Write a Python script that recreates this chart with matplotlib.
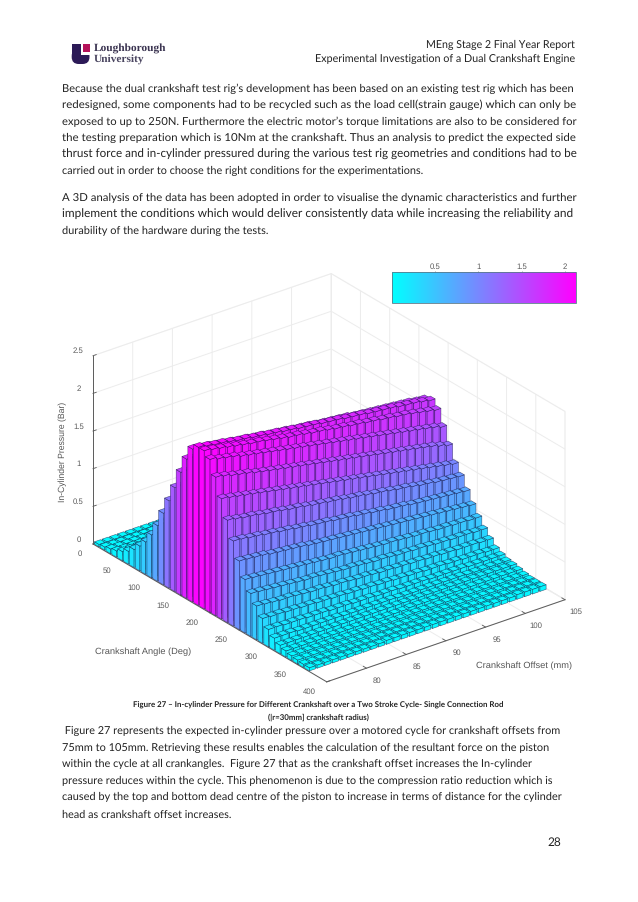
import numpy as np
import matplotlib
matplotlib.use("Agg")
import matplotlib.pyplot as plt
from matplotlib import cm
from matplotlib.colors import Normalize
from matplotlib.patches import Rectangle, FancyBboxPatch
from mpl_toolkits.mplot3d import proj3d
from mpl_toolkits.mplot3d.art3d import Poly3DCollection

plt.rcParams["text.hinting"] = "none"
plt.rcParams["text.hinting_factor"] = 8

angles = list(range(0, 370, 10))
offsets = list(range(75, 106))
x_ticks = [0, 50, 100, 150, 200, 250, 300, 350, 400]
y_ticks = [80, 85, 90, 95, 100, 105]
z_ticks = [0, 0.5, 1, 1.5, 2, 2.5]
z_tick_labels = ["0", "0.5", "1", "1.5", "2", "2.5"]
cbar_ticks = [0.5, 1, 1.5, 2]
cbar_labels = ["0.5", "1", "1.5", "2"]

# In-cylinder pressure in bar x100: one row per crank angle, one column per offset
pressure_x100 = [
 [3,3,3,3,3,3,3,3,3,3,3,3,3,3,3,2,2,2,2,2,2,2,2,2,2,2,2,2,2,2,2],
 [4,4,4,4,4,4,4,4,4,4,3,3,3,3,3,3,3,3,3,3,3,3,3,3,3,3,3,3,3,3,3],
 [6,6,6,6,6,6,6,6,5,5,5,5,5,5,5,5,5,5,5,5,5,5,5,5,5,5,5,5,5,5,5],
 [8,8,8,8,8,8,7,7,7,7,7,7,7,7,7,7,7,7,6,6,6,6,6,6,6,6,6,6,6,6,6],
 [12,12,12,12,12,11,11,11,11,11,11,11,11,10,10,10,10,10,10,10,10,10,10,10,9,9,9,9,9,9,9],
 [17,17,17,16,16,16,16,16,16,15,15,15,15,15,15,15,14,14,14,14,14,14,14,14,14,13,13,13,13,13,13],
 [24,24,23,23,23,23,22,22,22,22,21,21,21,21,21,20,20,20,20,20,19,19,19,19,19,19,18,18,18,18,18],
 [33,33,32,32,31,31,31,30,30,30,29,29,29,28,28,28,28,27,27,27,27,26,26,26,26,26,25,25,25,25,25],
 [43,43,42,42,41,41,40,40,39,39,39,38,38,38,37,37,37,36,36,36,35,35,35,35,34,34,34,34,33,33,33],
 [57,56,56,55,55,54,53,53,52,52,51,51,50,50,49,49,48,48,48,47,47,46,46,46,45,45,45,44,44,44,44],
 [74,73,72,72,71,70,70,69,68,68,67,67,66,65,65,64,64,63,63,62,62,61,61,60,60,60,59,59,58,58,58],
 [95,94,93,92,91,90,90,89,88,87,86,85,85,84,83,83,82,81,81,80,79,79,78,78,77,77,76,76,75,75,75],
 [116,115,114,113,112,111,110,109,108,107,106,105,104,103,102,101,100,100,99,98,97,97,96,95,95,94,94,93,93,93,93],
 [138,137,135,134,133,132,131,129,128,127,126,125,124,123,122,121,120,119,118,117,116,115,115,114,113,112,112,111,111,111,111],
 [163,161,160,158,157,156,154,153,152,150,149,148,147,146,145,143,142,141,140,139,138,137,136,136,135,134,133,133,132,131,131],
 [185,183,182,180,179,177,176,175,173,172,171,169,168,167,166,165,164,162,161,160,159,158,157,156,155,154,153,152,152,151,150],
 [203,201,200,198,196,195,193,192,190,189,187,186,185,183,182,181,179,178,177,176,175,173,172,171,170,169,168,167,166,164,163],
 [210,208,206,205,203,201,200,198,197,195,194,192,191,189,188,187,185,184,183,181,180,179,177,176,175,174,172,171,170,168,166],
 [210,208,206,204,202,200,198,197,195,193,191,189,188,186,184,183,181,179,178,176,175,173,172,170,169,167,166,164,162,160,158],
 [203,200,198,196,193,191,189,187,185,183,181,179,177,175,173,171,169,167,165,163,161,159,157,155,153,151,149,147,145,143,140],
 [184,182,179,177,175,172,170,168,166,164,162,160,158,156,154,152,150,148,146,144,142,140,138,136,134,132,130,128,126,123,120],
 [160,158,156,154,152,150,148,146,144,142,140,138,136,134,132,130,128,126,124,122,120,118,116,114,112,110,108,106,104,102,100],
 [136,134,132,131,129,127,126,124,122,121,119,117,116,114,113,111,109,108,106,104,103,101,99,98,96,94,93,91,90,89,88],
 [113,112,110,109,107,106,104,103,101,100,98,97,96,94,93,92,90,89,87,86,84,83,82,80,79,78,77,76,75,74,73],
 [91,90,89,88,86,85,84,83,82,80,79,78,77,76,75,74,73,72,71,70,69,68,67,66,65,64,63,62,61,60,59],
 [71,70,69,68,67,66,65,64,63,62,61,60,60,59,58,57,56,55,54,54,53,52,51,51,50,49,49,48,48,47,47],
 [57,56,55,54,53,52,51,50,50,49,48,47,46,46,45,44,43,43,42,41,41,40,40,39,38,38,37,37,37,36,36],
 [45,44,43,42,42,41,40,39,39,38,37,37,36,35,35,34,33,33,32,32,31,31,30,30,29,29,28,28,28,27,27],
 [33,32,32,31,31,30,30,29,29,28,28,27,27,26,26,25,25,24,24,23,23,22,22,22,21,21,20,20,20,19,19],
 [23,23,22,22,22,21,21,21,20,20,20,19,19,19,18,18,18,17,17,17,17,16,16,16,16,16,15,15,15,15,15],
 [16,16,16,15,15,15,15,15,15,14,14,14,14,14,14,14,13,13,13,13,13,13,13,13,13,12,12,12,12,12,12],
 [11,11,11,11,11,11,11,11,11,11,11,11,11,11,11,11,11,11,11,11,11,11,11,11,11,11,11,11,11,11,11],
 [8,8,8,8,8,8,8,8,8,8,8,8,8,8,8,8,9,9,9,9,9,9,9,9,9,9,9,9,9,9,9],
 [6,6,6,6,6,6,6,6,6,6,6,6,6,6,6,7,7,7,7,7,7,7,7,7,7,7,7,7,7,7,7],
 [5,5,5,5,5,5,5,5,5,5,5,5,5,5,5,6,6,6,6,6,6,6,6,6,6,6,6,6,6,6,6],
 [4,4,4,4,4,4,4,4,4,4,5,5,5,5,5,5,5,5,5,5,5,5,5,5,5,5,5,6,6,6,6],
 [4,4,4,4,4,4,4,4,4,4,5,5,5,5,5,5,5,5,5,5,5,5,5,5,5,5,5,6,6,6,6],
]

header_lines = ["MEng Stage 2 Final Year Report",
                "Experimental Investigation of a Dual Crankshaft Engine"]
para1 = ["Because the dual crankshaft test rig\u2019s development has been based on an existing test rig which has been",
         "redesigned, some components had to be recycled such as the load cell(strain gauge) which can only be",
         "exposed to up to 250N. Furthermore the electric motor\u2019s torque limitations are also to be considered for",
         "the testing preparation which is 10Nm at the crankshaft. Thus an analysis to predict the expected side",
         "thrust force and in-cylinder pressured during the various test rig geometries and conditions had to be"]
para1_last = "carried out in order to choose the right conditions for the experimentations."
para2 = ["A 3D analysis of the data has been adopted in order to visualise the dynamic characteristics and further",
         "implement the conditions which would deliver consistently data while increasing the reliability and"]
para2_last = "durability of the hardware during the tests."
caption = ["Figure 27 \u2013 In-cylinder Pressure for Different Crankshaft over a Two Stroke Cycle- Single Connection Rod",
           "(|r=30mm] crankshaft radius)"]
para3 = [" Figure 27 represents the expected in-cylinder pressure over a motored cycle for crankshaft offsets from",
         "75mm to 105mm. Retrieving these results enables the calculation of the resultant force on the piston",
         "within the cycle at all crankangles.  Figure 27 that as the crankshaft offset increases the In-cylinder",
         "pressure reduces within the cycle. This phenomenon is due to the compression ratio reduction which is",
         "caused by the top and bottom dead centre of the piston to increase in terms of distance for the cylinder",
         "head as crankshaft offset increases."]

W, H = 638, 903
fig = plt.figure(figsize=(W / 100, H / 100), dpi=100, facecolor="white")
page = fig.add_axes([0, 0, 1, 1], zorder=5)
page.set_xlim(0, W); page.set_ylim(H, 0); page.axis("off"); page.patch.set_alpha(0)
renderer = fig.canvas.get_renderer()
BODY = "Lato"
TXT = "#222222"

def plain_line(s, y, width, x0=62, size=8.2, ha="left", weight="normal"):
    t = page.text(x0, y, s, family=BODY, fontsize=size, color=TXT, va="center", ha=ha, fontweight=weight)
    best, best_err = size, 1e9
    for cand in np.arange(size * 0.8, size * 1.25, 0.01):
        t.set_fontsize(cand)
        err = abs(t.get_window_extent(renderer).width - width)
        if err < best_err:
            best, best_err = cand, err
    t.set_fontsize(best)
    return t

plain_line(header_lines[0], 45, 149.4, x0=575, ha="right")
plain_line(header_lines[1], 59.3, 261.4, x0=575, ha="right")
for y, s in zip([88.3, 105, 121.5, 138, 154.5], para1):
    plain_line(s, y, 513)
plain_line(para1_last, 171, 362.6)
for y, s in zip([197.7, 214.5], para2):
    plain_line(s, y, 513)
plain_line(para2_last, 231, 206)
plain_line(caption[0], 705, 369, x0=318.5, ha="center", size=6.2, weight="bold")
plain_line(caption[1], 717, 101, x0=318.5, ha="center", size=6.2, weight="bold")
para3_y = [731, 748.3, 764.3, 781, 796.7, 814.3]
para3_w = [498, 484.7, 470, 493, 497, 169.7]
for y, wid, s in zip(para3_y, para3_w, para3):
    plain_line(s, y, wid)
page.text(561, 843, "28", family=BODY, fontsize=8.6, color=TXT, va="center", ha="right")

# logo
PURPLE = "#2c1a57"
page.add_patch(Rectangle((71.7, 44.5), 9.3, 12, fc=PURPLE, ec="none"))
page.add_patch(FancyBboxPatch((71.7, 50), 17.8, 15, boxstyle="round,pad=0,rounding_size=7", fc=PURPLE, ec="none"))
page.add_patch(Rectangle((81, 43.5), 9.5, 12, fc="white", ec="none"))
page.add_patch(Rectangle((83.3, 44.5), 6.2, 8, fc="#b5125a", ec="none"))
page.text(93.5, 49.3, "Loughborough", family="Liberation Serif", fontsize=8.2, color="#3a3350", va="center", fontweight="bold")
page.text(93.5, 60, "University", family="Liberation Serif", fontsize=8.2, color="#4a4560", va="center", fontweight="bold")

# 3D chart
ax = fig.add_axes([0.05, 0.2, 0.7, 0.7 * W / H], projection="3d", proj_type="ortho", computed_zorder=False, zorder=2)
ax.patch.set_alpha(0)
ax.set_xlim(0, 400, view_margin=0)
ax.set_ylim(75, 105, view_margin=0)
ax.set_zlim(0, 2.5, view_margin=0)
ax.set_box_aspect((385, 300, 211))
ax.view_init(elev=26.8, azim=-37.4)

AXC = "#5a5a5a"
GRID = "#ececec"
for a in (ax.xaxis, ax.yaxis, ax.zaxis):
    a.pane.set_facecolor((1, 1, 1, 1))
    a.pane.set_edgecolor(GRID)
    a.pane.set_linewidth(0.7)
    a.line.set_color(AXC)
    a.line.set_linewidth(0.7)
    a._axinfo["grid"].update(color=GRID, linewidth=0.7)
    a._axinfo["tick"].update(inward_factor=0.0, outward_factor=0.17, linewidth={True: 0.6, False: 0.6}, color=AXC)
ax.set_xticks(x_ticks); ax.set_yticks(y_ticks); ax.set_zticks(z_ticks, z_tick_labels)
ax.zaxis.set_ticks_position("lower")
ax.zaxis.set_label_position("lower")
ax.tick_params(axis="x", colors=AXC, labelsize=5.6, pad=1)
ax.tick_params(axis="y", colors=AXC, labelsize=5.6, pad=1)
ax.tick_params(axis="z", colors=AXC, labelsize=5.6, pad=-2)
for lab in ax.get_xticklabels() + ax.get_yticklabels() + ax.get_zticklabels():
    lab.set_family("Liberation Sans")
    lab.set_va("bottom")
for lab in ax.get_xticklabels():
    lab.set_ha("right")

# fit the box to the page
cx = np.array([0, 400, 400, 0]); cy = np.array([75, 75, 105, 105]); cz = np.zeros(4)
def corners():
    ax.apply_aspect()
    tx, ty, _ = proj3d.proj_transform(cx, cy, cz, ax.get_proj())
    return ax.transData.transform(np.c_[tx, ty])
for _ in range(3):
    p = corners()
    pos = ax.get_position(original=True)
    L = pos.width * W
    l0 = pos.x0 * W; b0 = pos.y0 * H
    scale = (565 - 93) / (p[2, 0] - p[0, 0])
    L2 = L * scale
    ax.set_position([l0 / W, b0 / H, L2 / W, L2 / H])
    p = corners()
    dx = 93 - p[0, 0]
    dy = (H - 545) - p[0, 1]
    ax.set_position([(l0 + dx) / W, (b0 + dy) / H, L2 / W, L2 / H])

norm = Normalize(0, 2.13)
cmap = matplotlib.colormaps["cool"]
PZ = np.array(pressure_x100) / 100.0
dth = 4.0
pitch = 30.0 / 31
dof = 0.4 * pitch
order = 10
EDGE = (0.06, 0.06, 0.22, 0.65)
for i, th in enumerate(angles):
    xc = th + 5
    for j in range(len(offsets) - 1, -1, -1):
        yc = 75 + (offsets[j] - 75 + 0.5) * pitch
        h = PZ[i, j]
        x0, x1, y0, y1 = xc - dth, xc + dth, yc - dof, yc + dof
        polys = [[(x1, y0, 0), (x1, y1, 0), (x1, y1, h), (x1, y0, h)],
                 [(x0, y0, 0), (x1, y0, 0), (x1, y0, h), (x0, y0, h)],
                 [(x0, y0, h), (x1, y0, h), (x1, y1, h), (x0, y1, h)]]
        c = cmap(norm(h))
        pc = Poly3DCollection(polys, facecolors=[c] * 3, edgecolors=[EDGE] * 3, linewidths=0.4, zorder=order)
        ax.add_collection3d(pc, autolim=False)
        order += 1

# axis captions
CAPC = "#555555"
page.text(143, 652, "Crankshaft Angle (Deg)", family="Liberation Sans", fontsize=6.7, color=CAPC, ha="center", va="center")
page.text(524, 666, "Crankshaft Offset (mm)", family="Liberation Sans", fontsize=6.7, color=CAPC, ha="center", va="center")
page.text(63, 452, "In-Cylinder Pressure (Bar)", family="Liberation Sans", fontsize=6.2, color=CAPC, ha="center", va="center", rotation=90)

# colour bar
cax = fig.add_axes([392 / W, 1 - 304 / H, 184 / W, 31 / H], zorder=3)
sm = cm.ScalarMappable(norm=norm, cmap=cmap)
cb = fig.colorbar(sm, cax=cax, orientation="horizontal", ticks=cbar_ticks)
cb.ax.set_xticklabels(cbar_labels, family="Liberation Sans", fontsize=5.6, color=AXC)
cb.ax.xaxis.set_ticks_position("top")
cb.ax.tick_params(length=1, width=0.4, color=AXC, pad=0.5)
cb.outline.set_edgecolor("#5a7a8a"); cb.outline.set_linewidth(0.6)

fig.savefig("out.png", dpi=100, facecolor="white")
